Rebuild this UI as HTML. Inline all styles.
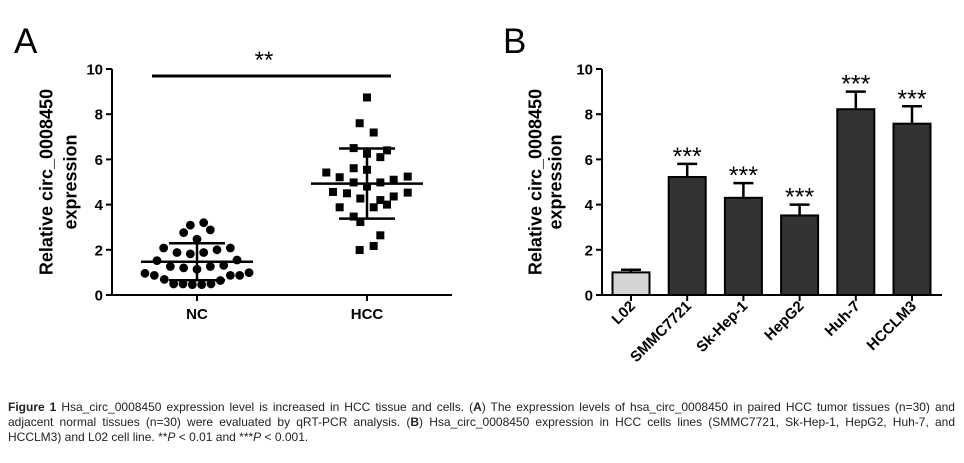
<!DOCTYPE html>
<html><head><meta charset="utf-8"><style>
html,body{margin:0;padding:0;background:#fff;}
body{width:964px;height:463px;position:relative;overflow:hidden;font-family:"Liberation Sans",sans-serif;}
#cap{position:absolute;left:8px;top:400px;width:947px;font-size:12px;line-height:15px;text-align:justify;text-align-last:left;color:#222;}
</style></head><body>
<svg id="chart" width="964" height="395" style="position:absolute;left:0;top:0" font-family="Liberation Sans, sans-serif"></svg>
<div id="cap"><b>Figure 1</b> Hsa_circ_0008450 expression level is increased in HCC tissue and cells. (<b>A</b>) The expression levels of hsa_circ_0008450 in paired HCC tumor tissues (n=30) and adjacent normal tissues (n=30) were evaluated by qRT-PCR analysis. (<b>B</b>) Hsa_circ_0008450 expression in HCC cells lines (SMMC7721, Sk-Hep-1, HepG2, Huh-7, and HCCLM3) and L02 cell line. **<i>P</i> &lt; 0.01 and ***<i>P</i> &lt; 0.001.</div>
<script>
// Panel A data
const ncValues=[3.2,3.09,2.76,2.88,2.47,2.08,1.88,1.82,1.88,2.0,2.08,1.52,1.55,1.26,1.2,1.14,1.26,1.31,0.96,0.87,0.69,0.49,0.49,0.46,0.46,0.49,0.64,0.87,0.87,0.99];
const ncJitter=[1,-1,-2,2,0,-5,-3,-1,1,3,5,-6,6,-4,-2,0,2,4,-7.8,-6.4,-4.9,-3.5,-2.1,-0.7,0.7,2.1,3.5,5,6.4,7.8];
const hccValues=[8.74,7.6,7.19,6.5,6.4,6.25,6.1,5.61,5.54,5.42,5.21,5.24,4.98,4.98,5.1,4.8,4.56,4.5,4.53,4.27,4.2,4.36,4.0,3.88,3.88,3.47,3.23,2.64,2.17,1.99];
const hccJitter=[0,-1.1,1,-2,3,0,2,-2,0,-6.1,-4.1,6.1,-2,2,4,0,-5.1,-3,6.1,-1,2,4,3,1,-4.1,-2,-1,2,1,-1.1];
const groupsA=["NC","HCC"];
const meanA=[1.47,4.93];
const sdA=[0.82,1.55];
const yTicks=[0,2,4,6,8,10];
// Panel B data
const cellLines=["L02","SMMC7721","Sk-Hep-1","HepG2","Huh-7","HCCLM3"];
const barValues=[1.0,5.22,4.3,3.52,8.22,7.58];
const barErrors=[0.12,0.58,0.65,0.48,0.78,0.77];
const barSig=["","***","***","***","***","***"];

const svg=document.getElementById('chart');
const NS='http://www.w3.org/2000/svg';
function mk(tag,attrs,parent){const e=document.createElementNS(NS,tag);for(const k in attrs)e.setAttribute(k,attrs[k]);(parent||svg).appendChild(e);return e;}
function yS(v){return 295-v*22.6;}

// ---- Panel A ----
const gA=mk('g',{});


let t=mk('text',{x:14,y:53,'font-size':35},gA);t.textContent='A';

const axA=mk('path',{d:'M112,69 V295 H452',stroke:'#000','stroke-width':2,fill:'none'},gA);

yTicks.forEach(v=>{
  mk('line',{x1:106,x2:112,y1:yS(v),y2:yS(v),stroke:'#000','stroke-width':2},gA);
  const l=mk('text',{x:103,y:yS(v)+5.5,'font-size':15,'font-weight':'bold','text-anchor':'end'},gA);
  l.textContent=v;
  
});
const xA=[197,367];
groupsA.forEach((g,i)=>{
  mk('line',{x1:xA[i],x2:xA[i],y1:295,y2:301,stroke:'#000','stroke-width':2},gA);
  const l=mk('text',{x:xA[i],y:319,'font-size':15,'font-weight':'bold','text-anchor':'middle'},gA);
  l.textContent=g;
  
});
let yl=mk('text',{transform:'translate(52.5,182) rotate(-90)','font-size':18,'font-weight':'bold','text-anchor':'middle'},gA);
yl.textContent='Relative circ_0008450';

yl=mk('text',{transform:'translate(76.5,182) rotate(-90)','font-size':18,'font-weight':'bold','text-anchor':'middle'},gA);
yl.textContent='expression';

const sigl=mk('line',{x1:152,x2:391,y1:76,y2:76,stroke:'#000','stroke-width':3},gA);

t=mk('text',{x:264,y:68,'font-size':24,'text-anchor':'middle'},gA);t.textContent='**';

ncValues.forEach((v,i)=>{
  const c=mk('circle',{cx:xA[0]+ncJitter[i]*6.67,cy:yS(v),r:4.4,fill:'#000'},gA);
  
});
hccValues.forEach((v,i)=>{
  const c=mk('rect',{x:xA[1]+hccJitter[i]*6.67-4,y:yS(v)-4,width:8,height:8,fill:'#000'},gA);
  
});
meanA.forEach((m,i)=>{
  const g=mk('g',{stroke:'#000','stroke-width':2.5},gA);
  
  mk('line',{x1:xA[i]-56,x2:xA[i]+56,y1:yS(m),y2:yS(m)},g);
  mk('line',{x1:xA[i],x2:xA[i],y1:yS(m+sdA[i]),y2:yS(m-sdA[i])},g);
  mk('line',{x1:xA[i]-28,x2:xA[i]+28,y1:yS(m+sdA[i]),y2:yS(m+sdA[i])},g);
  mk('line',{x1:xA[i]-28,x2:xA[i]+28,y1:yS(m-sdA[i]),y2:yS(m-sdA[i])},g);
});

// ---- Panel B ----
const gB=mk('g',{});


t=mk('text',{x:503,y:53,'font-size':35},gB);t.textContent='B';

yl=mk('text',{transform:'translate(541.5,182) rotate(-90)','font-size':18,'font-weight':'bold','text-anchor':'middle'},gB);
yl.textContent='Relative circ_0008450';

yl=mk('text',{transform:'translate(561.5,182) rotate(-90)','font-size':18,'font-weight':'bold','text-anchor':'middle'},gB);
yl.textContent='expression';

yTicks.forEach(v=>{
  mk('line',{x1:596,x2:602,y1:yS(v),y2:yS(v),stroke:'#000','stroke-width':2},gB);
  const l=mk('text',{x:593,y:yS(v)+5.5,'font-size':15,'font-weight':'bold','text-anchor':'end'},gB);
  l.textContent=v;
  
});
function xB(i){return 631+i*56.2;}
cellLines.forEach((c,i)=>{
  const x=xB(i),v=barValues[i],e=barErrors[i];
  const eg=mk('g',{stroke:'#000','stroke-width':2.5},gB);
  
  mk('line',{x1:x,x2:x,y1:yS(v),y2:yS(v+e)},eg);
  mk('line',{x1:x-10,x2:x+10,y1:yS(v+e),y2:yS(v+e)},eg);
  const r=mk('rect',{x:x-18.5,y:yS(v),width:37,height:yS(0)-yS(v),fill:i===0?'#d4d4d4':'#333',stroke:'#000','stroke-width':2},gB);
  
  if(barSig[i]){
    const s=mk('text',{x:x,y:yS(v+e)+1,'font-size':25,'text-anchor':'middle'},gB);
    s.textContent=barSig[i];
    
  }
  mk('line',{x1:x,x2:x,y1:295,y2:301,stroke:'#000','stroke-width':2},gB);
  const l=mk('text',{transform:`translate(${x+5},${307}) rotate(-45)`,'font-size':15,'font-weight':'bold','text-anchor':'end'},gB);
  l.textContent=c;
  
});
const axB=mk('path',{d:'M602,69 V295 H942',stroke:'#000','stroke-width':2,fill:'none'},gB);

</script>
</body></html>
